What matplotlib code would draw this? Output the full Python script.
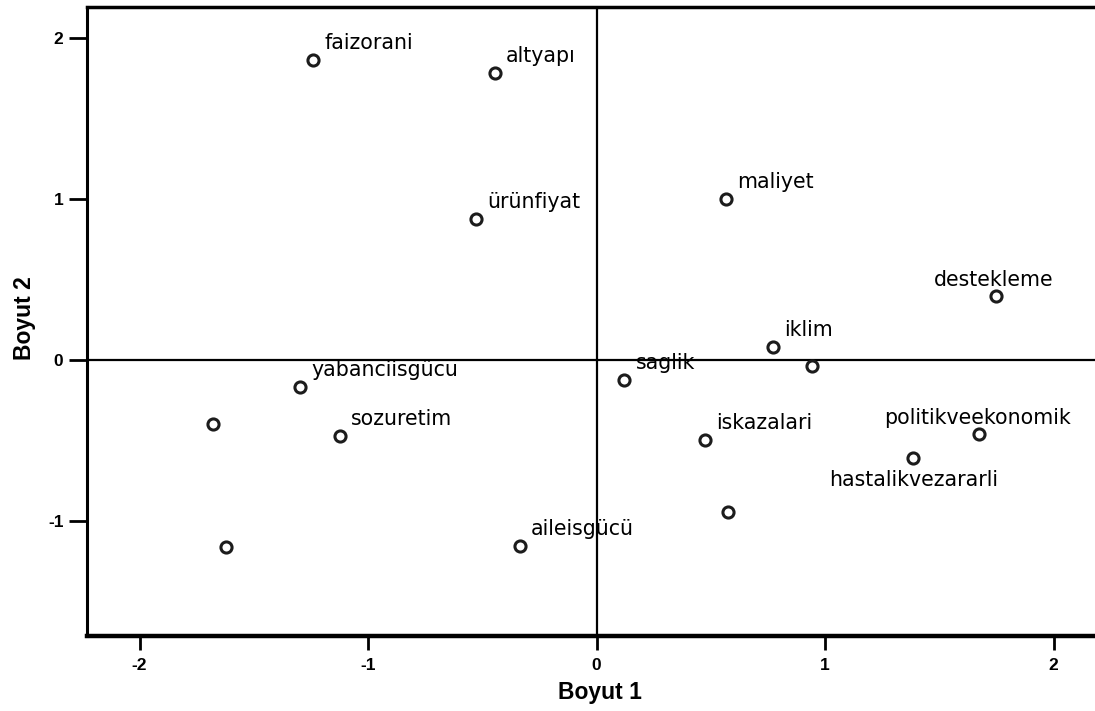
import matplotlib
matplotlib.use("Agg")
import matplotlib.pyplot as plt

# Data (Boyut 1 = x, Boyut 2 = y)
labels = ["faizorani", "altyapı", "ürünfiyat", "maliyet", "destekleme",
          "iklim", "", "saglik", "iskazalari", "politikveekonomik",
          "hastalikvezararli", "", "aileisgücü", "yabanciisgücu", "",
          "sozuretim", ""]
boyut1 = [-1.239, -0.444, -0.527, 0.567, 1.748,
          0.774, 0.942, 0.122, 0.475, 1.675,
          1.384, 0.577, -0.335, -1.298, -1.677,
          -1.123, -1.621]
boyut2 = [1.866, 1.783, 0.877, 1.001, 0.398,
          0.079, -0.037, -0.124, -0.497, -0.462,
          -0.611, -0.943, -1.157, -0.170, -0.398,
          -0.473, -1.165]
xticks = [-2, -1, 0, 1, 2]
yticks = [-1, 0, 1, 2]

W, H = 1095, 711
fig = plt.figure(figsize=(W / 100, H / 100), dpi=100)
ax = fig.add_axes([87 / W, (H - 636) / H, (1113 - 87) / W, (636 - 6.7) / H])

ax.set_xlim(-2.230, 2.260)
ax.set_ylim(-1.716, 2.197)

ax.axhline(0, color="black", lw=1.6, zorder=1)
ax.axvline(0, color="black", lw=1.6, zorder=1)

ax.plot(boyut1, boyut2, linestyle="none", marker="o", markersize=8,
        markerfacecolor="white", markeredgecolor="#1c1c1c",
        markeredgewidth=2.2, zorder=3)

label_font = dict(family="DejaVu Sans", size=14.8, color="black")
centered_above = {"destekleme", "politikveekonomik"}
centered_below = {"hastalikvezararli"}
for name, x, y in zip(labels, boyut1, boyut2):
    if not name:
        continue
    if name in centered_above:
        ax.annotate(name, (x, y), xytext=(-2, 10), textcoords="offset pixels",
                    ha="center", va="baseline", **label_font)
    elif name in centered_below:
        ax.annotate(name, (x, y), xytext=(1, -12), textcoords="offset pixels",
                    ha="center", va="top", **label_font)
    else:
        ax.annotate(name, (x, y), xytext=(11, 11), textcoords="offset pixels",
                    ha="left", va="baseline", **label_font)

ax.set_xticks(xticks)
ax.set_yticks(yticks)
ax.set_xticklabels([str(t) for t in xticks], family="Liberation Sans",
                   fontsize=12.5, fontweight="bold")
ax.set_yticklabels([str(t) for t in yticks], family="Liberation Sans",
                   fontsize=12.5, fontweight="bold")
ax.tick_params(axis="x", direction="out", length=10, width=2, pad=6, colors="black")
ax.tick_params(axis="y", direction="out", length=13, width=2, pad=4, colors="black")

ax.spines["right"].set_visible(False)
ax.spines["top"].set_linewidth(2.5)
ax.spines["left"].set_linewidth(2.2)
ax.spines["bottom"].set_linewidth(3.2)

fig.text(600 / W, 1 - 692 / H, "Boyut 1", ha="center", va="center",
         family="Liberation Sans", fontweight="bold", fontsize=16.5)
fig.text(25 / W, 1 - 318 / H, "Boyut 2", ha="center", va="center", rotation=90,
         family="Liberation Sans", fontweight="bold", fontsize=16.5)

fig.savefig("out.png", dpi=100, facecolor="white")
